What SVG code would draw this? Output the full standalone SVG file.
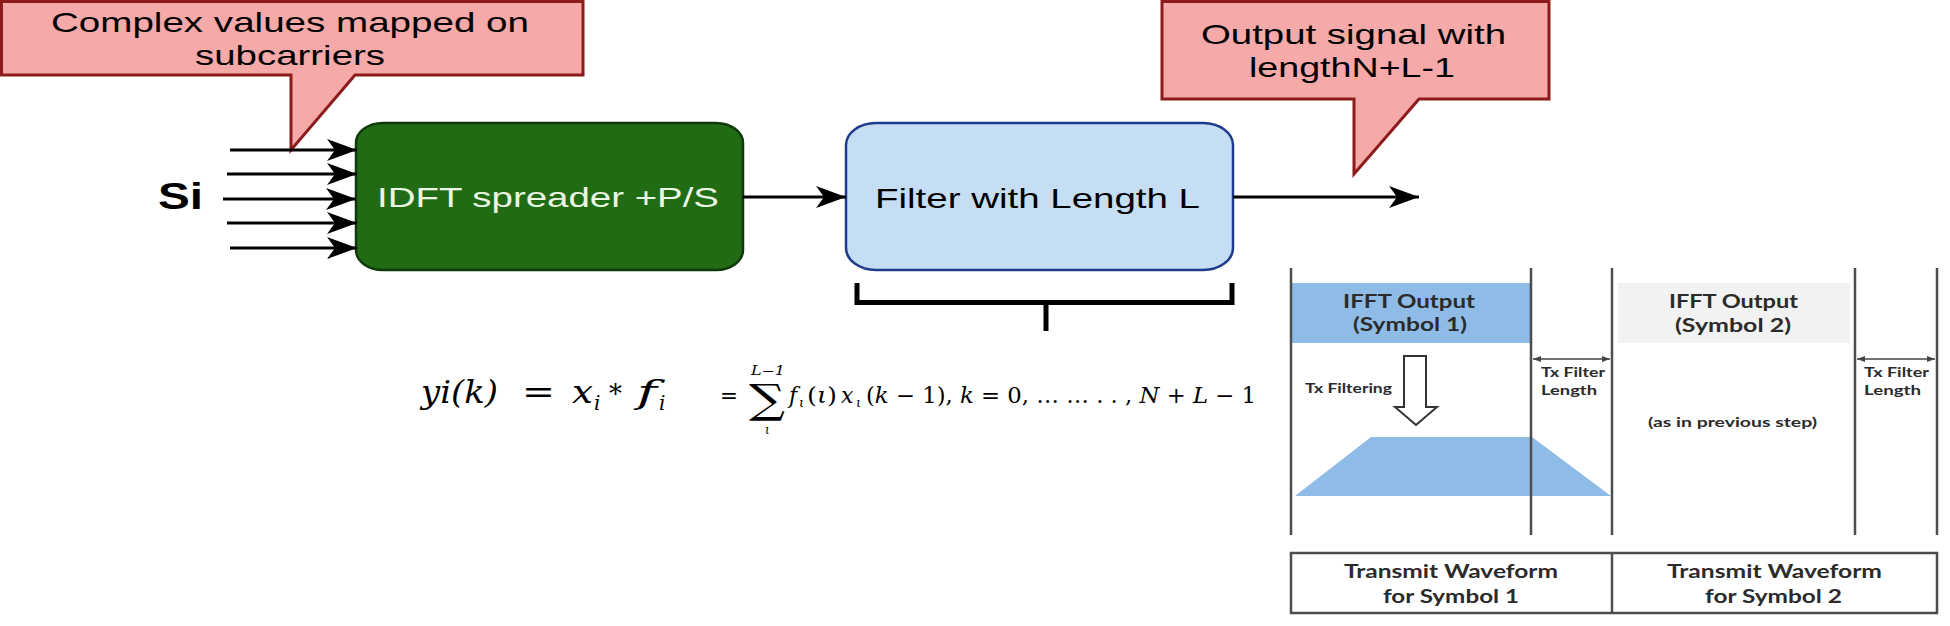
<svg xmlns="http://www.w3.org/2000/svg" width="1950" height="626" viewBox="0 0 1950 626">
<defs>
<marker id="ah" viewBox="0 0 30 22" refX="30" refY="11" markerWidth="30" markerHeight="22" markerUnits="userSpaceOnUse" orient="auto">
<path d="M0,0 L30,11 L0,22 L8,11 Z" fill="#000"/>
</marker>
<marker id="sa" viewBox="0 0 8 8" refX="8" refY="4" markerWidth="8" markerHeight="8" markerUnits="userSpaceOnUse" orient="auto-start-reverse">
<path d="M0,1 L8,4 L0,7 Z" fill="#444"/>
</marker>
<style>
.sans{font-family:"Liberation Sans",Arial,sans-serif;font-size:28px;fill:#000}
.callout{fill:#F5A9A9;stroke:#8E1B1B;stroke-width:3}
.conn{stroke:#000;stroke-width:3;fill:none;marker-end:url(#ah)}
.brk{stroke:#000;stroke-width:5;fill:none}
.math{font-family:"DejaVu Serif","Liberation Serif",serif;fill:#000}
.pl{stroke:#4d4d4d;stroke-width:2.5;fill:none}
.pt{font-family:Lato,"Open Sans","Liberation Sans",sans-serif;font-weight:bold;fill:#2b2b2b}
.blue{fill:#8FBCE6}
</style>
</defs>
<rect width="1950" height="626" fill="#fff"/>

<g id="callout-input">
<path class="callout" d="M1.5,1.5 H583 V75 H355 L291,150 V75 H1.5 Z"/>
<text class="sans" x="51" y="32" textLength="478" lengthAdjust="spacingAndGlyphs">Complex values mapped on</text>
<text class="sans" x="195" y="65" textLength="190" lengthAdjust="spacingAndGlyphs">subcarriers</text>
</g>

<g id="callout-output">
<path class="callout" d="M1162,1.5 H1549 V99 H1419 L1354,174 V99 H1162 Z"/>
<text class="sans" x="1201" y="44" textLength="305" lengthAdjust="spacingAndGlyphs">Output signal with</text>
<text class="sans" x="1249" y="77" textLength="206" lengthAdjust="spacingAndGlyphs">lengthN+L-1</text>
</g>

<g id="si-label">
<text class="sans" x="158" y="209" style="font-size:37px;font-weight:bold" textLength="45" lengthAdjust="spacingAndGlyphs">Si</text>
</g>

<g id="idft">
<rect x="356" y="123" width="387" height="147" rx="27" ry="20" fill="#216B14" stroke="#0E3A09" stroke-width="2.5"/>
<text class="sans" x="377" y="207" style="fill:#EAF5E4" textLength="342" lengthAdjust="spacingAndGlyphs">IDFT spreader +P/S</text>
</g>

<g id="filter">
<rect x="846" y="123" width="387" height="147" rx="30" ry="22" fill="#C6DEF4" stroke="#1F3C8C" stroke-width="2.5"/>
<text class="sans" x="875" y="208" textLength="325" lengthAdjust="spacingAndGlyphs">Filter with Length L</text>
</g>

<g id="connectors">
<line class="conn" x1="230" y1="150" x2="357" y2="150"/>
<line class="conn" x1="227" y1="174" x2="357" y2="174"/>
<line class="conn" x1="223" y1="199" x2="356" y2="199"/>
<line class="conn" x1="227" y1="223" x2="357" y2="223"/>
<line class="conn" x1="230" y1="248" x2="357" y2="248"/>
<line class="conn" x1="743" y1="197" x2="846" y2="197"/>
<line class="conn" x1="1233" y1="197" x2="1419" y2="197"/>
</g>

<g id="bracket">
<path class="brk" d="M857,283 V302.5 H1232 V283 M1046,302.5 V331"/>
</g>

<g id="formula">
<text class="math" x="421" y="403" font-size="32" font-style="italic" textLength="77" lengthAdjust="spacingAndGlyphs">yi(k)</text>
<text class="math" x="522" y="403" font-size="32" textLength="33" lengthAdjust="spacingAndGlyphs">=</text>
<text class="math" x="572" y="403" font-size="32" font-style="italic" textLength="21" lengthAdjust="spacingAndGlyphs">x</text>
<text class="math" x="594" y="410" font-size="20" font-style="italic">i</text>
<text class="math" x="609" y="403" font-size="26">*</text>
<text class="math" x="637" y="403" font-size="32" font-style="italic" textLength="20" lengthAdjust="spacingAndGlyphs">f</text>
<text class="math" x="659" y="410" font-size="20" font-style="italic">i</text>
<text class="math" x="720" y="403" font-size="22" textLength="18" lengthAdjust="spacingAndGlyphs">=</text>
<text class="math" x="751" y="375" font-size="12" font-style="italic" textLength="34" lengthAdjust="spacingAndGlyphs">L−1</text>
<text class="math" x="749" y="413" font-size="40" textLength="36" lengthAdjust="spacingAndGlyphs">∑</text>
<text class="math" x="765" y="434" font-size="12" font-style="italic">ι</text>
<text class="math" x="789" y="403" font-size="22" font-style="italic">f</text>
<text class="math" x="799" y="407" font-size="13" font-style="italic">ι</text>
<text class="math" x="807" y="403" font-size="22" textLength="30" lengthAdjust="spacingAndGlyphs">(<tspan font-style="italic">ι</tspan>)</text>
<text class="math" x="841" y="403" font-size="22" font-style="italic">x</text>
<text class="math" x="856" y="407" font-size="13" font-style="italic">ι</text>
<text class="math" x="866" y="403" font-size="22" textLength="390" lengthAdjust="spacingAndGlyphs">(<tspan font-style="italic">k</tspan> − 1), <tspan font-style="italic">k</tspan> = 0, … … . . , <tspan font-style="italic">N</tspan> + <tspan font-style="italic">L</tspan> − 1</text>
</g>

<g id="waveform-panel">
<rect class="blue" x="1291" y="283" width="240" height="60"/>
<rect x="1618" y="283" width="232" height="60" fill="#F2F2F2"/>
<polygon class="blue" points="1295,496 1371,437 1532,437 1611,496"/>
<line class="pl" x1="1291" y1="268" x2="1291" y2="535"/>
<line class="pl" x1="1531" y1="268" x2="1531" y2="535"/>
<line class="pl" x1="1612" y1="268" x2="1612" y2="535"/>
<line class="pl" x1="1855" y1="268" x2="1855" y2="535"/>
<line class="pl" x1="1937" y1="268" x2="1937" y2="535"/>
<line x1="1533" y1="359" x2="1610" y2="359" stroke="#444" stroke-width="1.5" marker-start="url(#sa)" marker-end="url(#sa)"/>
<line x1="1857" y1="359" x2="1935" y2="359" stroke="#444" stroke-width="1.5" marker-start="url(#sa)" marker-end="url(#sa)"/>
<polygon points="1404,356 1426,356 1426,407 1437,407 1416,425 1395,407 1404,407" fill="#fff" stroke="#333" stroke-width="2"/>
<text class="pt" x="1343" y="308" font-size="18" textLength="132" lengthAdjust="spacingAndGlyphs">IFFT Output</text>
<text class="pt" x="1353" y="331" font-size="18" textLength="114" lengthAdjust="spacingAndGlyphs">(Symbol 1)</text>
<text class="pt" x="1669" y="308" font-size="18" textLength="129" lengthAdjust="spacingAndGlyphs">IFFT Output</text>
<text class="pt" x="1675" y="332" font-size="18" textLength="116" lengthAdjust="spacingAndGlyphs">(Symbol 2)</text>
<text class="pt" x="1541" y="377" font-size="14" textLength="64" lengthAdjust="spacingAndGlyphs">Tx Filter</text>
<text class="pt" x="1541" y="395" font-size="14" textLength="56" lengthAdjust="spacingAndGlyphs">Length</text>
<text class="pt" x="1864" y="377" font-size="14" textLength="65" lengthAdjust="spacingAndGlyphs">Tx Filter</text>
<text class="pt" x="1864" y="395" font-size="14" textLength="57" lengthAdjust="spacingAndGlyphs">Length</text>
<text class="pt" x="1305" y="393" font-size="14" textLength="87" lengthAdjust="spacingAndGlyphs">Tx Filtering</text>
<text class="pt" x="1648" y="427" font-size="14" textLength="169" lengthAdjust="spacingAndGlyphs">(as in previous step)</text>
<rect x="1291" y="553" width="646" height="60" fill="none" stroke="#4d4d4d" stroke-width="2.5"/>
<line class="pl" x1="1612" y1="553" x2="1612" y2="613"/>
<text class="pt" x="1344" y="578" font-size="19" textLength="214" lengthAdjust="spacingAndGlyphs">Transmit Waveform</text>
<text class="pt" x="1383" y="603" font-size="19" textLength="136" lengthAdjust="spacingAndGlyphs">for Symbol 1</text>
<text class="pt" x="1667" y="578" font-size="19" textLength="215" lengthAdjust="spacingAndGlyphs">Transmit Waveform</text>
<text class="pt" x="1705" y="603" font-size="19" textLength="137" lengthAdjust="spacingAndGlyphs">for Symbol 2</text>
</g>
</svg>
